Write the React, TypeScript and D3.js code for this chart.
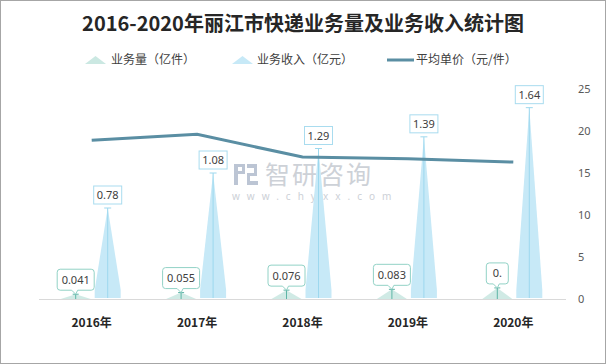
import React from 'react';
import * as d3 from 'd3';

const years = ['2016年', '2017年', '2018年', '2019年', '2020年'];
const volume = [0.041, 0.055, 0.076, 0.083, 0.095];
const volumeLabels = ['0.041', '0.055', '0.076', '0.083', '0.'];
const revenue = [0.78, 1.08, 1.29, 1.39, 1.64];
const revenueLabels = ['0.78', '1.08', '1.29', '1.39', '1.64'];
const unitPrice = [18.9, 19.6, 16.9, 16.7, 16.3];
const rightTicks = [0, 5, 10, 15, 20, 25];

const W = 606;
const H = 364;
const plotLeft = 39;
const plotRight = 566;
const plotTop = 89;
const plotBottom = 299;

const cjk = "'Noto Sans CJK SC', 'Noto Sans', sans-serif";
const num = "'Noto Sans', 'Liberation Sans', sans-serif";

const volColor = '#cbe8e2';
const volStroke = '#5db5a6';
const revColor = '#c7e9f7';
const revStroke = '#9dd8ee';
const lineColor = '#5a8ea3';

function callout(x0: number, y0: number, w: number, h: number, tx: number, ty: number) {
  const x1 = x0 + w;
  const y1 = y0 + h;
  const r = 3;
  return `M${x0 + r},${y0} H${x1 - r} Q${x1},${y0} ${x1},${y0 + r} V${y1 - r} Q${x1},${y1} ${x1 - r},${y1} H${tx + 2} L${tx},${ty} L${tx - 4},${y1} H${x0 + r} Q${x0},${y1} ${x0},${y1 - r} V${y0 + r} Q${x0},${y0} ${x0 + r},${y0} Z`;
}

export default function App() {
  const x = d3.scaleBand().domain(years).range([plotLeft, plotRight]);
  const yL = d3.scaleLinear().domain([0, 1.8]).range([plotBottom, plotTop]);
  const yR = d3.scaleLinear().domain([0, 25]).range([plotBottom, plotTop]);
  const cx = (i: number) => (x(years[i]) as number) + x.bandwidth() / 2;

  const line = d3
    .line<number>()
    .x((d, i) => cx(i))
    .y((d) => yR(d));

  return (
    <svg
      width={W}
      height={H}
      style={{ position: 'absolute', left: 0, top: 0, background: '#fff' }}
    >
      <rect x={0.5} y={0.5} width={W - 1} height={H - 1} fill="#fff" stroke="#a6a6a6" />

      <text x={303} y={31} textAnchor="middle" fontFamily={cjk} fontWeight="bold" fontSize={20} fill="#262626">
        2016-2020年丽江市快递业务量及业务收入统计图
      </text>

      {/* legend */}
      <g fontFamily={cjk} fontSize={12} fill="#404040">
        <polygon points="85,64 95.5,56 106,64" fill={volColor} />
        <text x={111} y={64}>业务量（亿件）</text>
        <polygon points="232,64 242.5,56 253,64" fill={revColor} />
        <text x={257} y={64}>业务收入（亿元）</text>
        <line x1={387} x2={414} y1={60} y2={60} stroke={lineColor} strokeWidth={3} />
        <text x={416} y={64}>平均单价（元/件）</text>
      </g>

      {/* watermark */}
      <g fill="#cdd1d7">
        <path d="M234,164 h11 v10 h-7 v11 h-4 z M238,167 v4 h4 v-4 z" fill="#bcc5d4" />
        <path d="M247,164 h10 v12 h-7 v5 h8 v4 h-11 v-12 h7 v-5 h-7 z" fill="#bcc5d4" />
        <text x={265} y={184} fontFamily={cjk} fontSize={25} letterSpacing={2}>智研咨询</text>
        <text x={232} y={200} fontFamily={num} fontSize={10} letterSpacing={7}>www.chyxx.com</text>
      </g>

      {/* axis line */}
      <line x1={plotLeft} x2={plotRight} y1={plotBottom + 0.5} y2={plotBottom + 0.5} stroke="#d9d9d9" />

      {/* right axis labels */}
      <g fontFamily={num} fontSize={11} fill="#595959">
        {rightTicks.map((t) => (
          <text key={t} x={578} y={yR(t) + 4}>
            {t}
          </text>
        ))}
      </g>

      {/* volume triangles */}
      {volume.map((v, i) => {
        const c = cx(i) - 16;
        const tip = yL(v);
        return (
          <g key={'v' + i}>
            <polygon points={`${c - 15},${plotBottom} ${c},${tip} ${c + 15},${plotBottom}`} fill={volColor} opacity={0.9} />
            <line x1={c} x2={c} y1={tip} y2={plotBottom} stroke={volStroke} />
            <line x1={c - 3} x2={c + 3} y1={tip} y2={tip} stroke={volStroke} />
          </g>
        );
      })}

      {/* revenue triangles */}
      {revenue.map((v, i) => {
        const c = cx(i) + 16;
        const tip = yL(v);
        const b = plotBottom - 1;
        return (
          <g key={'r' + i}>
            <polygon
              points={`${c},${tip} ${c + 13},${b - 8} ${c + 13},${b} ${c - 13},${b} ${c - 13},${b - 8}`}
              fill={revColor}
            />
            <line x1={c} x2={c} y1={tip} y2={b} stroke={revStroke} />
            <line x1={c - 3.5} x2={c + 3.5} y1={tip} y2={tip} stroke={revStroke} />
          </g>
        );
      })}

      {/* unit price line */}
      <path d={line(unitPrice) as string} fill="none" stroke={lineColor} strokeWidth={3} />

      {/* revenue labels */}
      {revenue.map((v, i) => {
        const c = cx(i) + 16;
        const tip = yL(v);
        const w = 28;
        const h = 18;
        return (
          <g key={'rl' + i}>
            <rect x={c - w / 2} y={tip - 4 - h} width={w} height={h} fill="#fff" stroke="#a9dcef" />
            <text x={c} y={tip - 4 - h / 2 + 4} textAnchor="middle" fontFamily={num} fontSize={11} fill="#404040">
              {revenueLabels[i]}
            </text>
          </g>
        );
      })}

      {/* volume labels */}
      {volume.map((v, i) => {
        const c = cx(i) - 16;
        const tip = yL(v);
        const label = volumeLabels[i];
        const w = 12 + label.length * 5;
        const h = 21;
        const y0 = tip - 4 - h;
        return (
          <g key={'vl' + i}>
            <path d={callout(c - w / 2, y0, w, h, c, tip)} fill="#fff" stroke="#92d2c6" />
            <text x={c} y={y0 + h / 2 + 4} textAnchor="middle" fontFamily={num} fontSize={11} fill="#404040">
              {label}
            </text>
          </g>
        );
      })}

      {/* x labels */}
      <g fontFamily={cjk} fontSize={12} fontWeight="bold" fill="#262626">
        {years.map((y, i) => (
          <text key={y} x={cx(i)} y={327} textAnchor="middle">
            {y}
          </text>
        ))}
      </g>
    </svg>
  );
}
